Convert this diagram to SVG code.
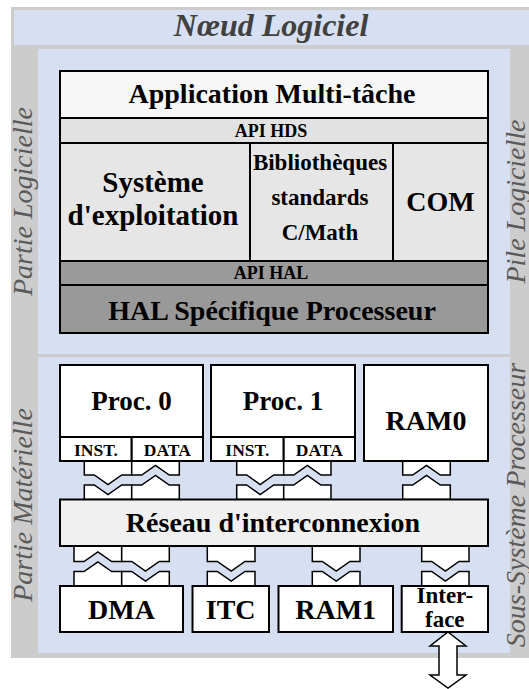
<svg xmlns="http://www.w3.org/2000/svg" width="529" height="689" viewBox="0 0 529 689">
<style>
.box{stroke:#000;stroke-width:2}
.con{fill:#fff;stroke:#000;stroke-width:1.5;stroke-linejoin:miter}
.t{font-family:"Liberation Serif","Times New Roman",serif;font-weight:bold;fill:#000;text-anchor:middle}
.side{font-family:"Liberation Serif","Times New Roman",serif;font-style:italic;font-size:28px;fill:#5a5a5a;text-anchor:middle}
</style>
<rect width="529" height="689" fill="#fff"/>
<g id="frame">
<rect x="11" y="7" width="520" height="651" fill="#cccccc"/>
<rect x="14" y="10" width="517" height="35" fill="#d6e0f2"/>
<rect x="38" y="49" width="472" height="305" fill="#d6e0f2"/>
<rect x="38" y="357" width="472" height="296" fill="#d6e0f2"/>
<text x="271" y="36" font-family="Liberation Serif,Times New Roman,serif" font-weight="bold" font-style="italic" font-size="32" fill="#404040" text-anchor="middle">Nœud Logiciel</text>
<text class="side" transform="translate(32,201.5) rotate(-90)">Partie Logicielle</text>
<text class="side" transform="translate(32,505) rotate(-90)">Partie Matérielle</text>
<text class="side" transform="translate(525,201.5) rotate(-90)">Pile Logicielle</text>
<text class="side" transform="translate(525,505) rotate(-90)">Sous-Système Processeur</text>
</g>
<g id="connectors">
<path class="con" d="M84.3,461 H131.7 V475 H121.7 L108,484.5 L94.3,475 H84.3 Z"/>
<path class="con" d="M84.3,485 H94.3 L108,494.5 L121.7,485 H131.7 V499.5 H84.3 Z"/>
<path class="con" d="M131.7,461 H179.3 V475 H169.3 L155.5,465.5 L141.7,475 H131.7 Z"/>
<path class="con" d="M131.7,485 H141.7 L155.5,475.5 L169.3,485 H179.3 V499.5 H131.7 Z"/>
<path class="con" d="M236.7,461 H283.7 V475 H273.7 L260.2,484.5 L246.7,475 H236.7 Z"/>
<path class="con" d="M236.7,485 H246.7 L260.2,494.5 L273.7,485 H283.7 V499.5 H236.7 Z"/>
<path class="con" d="M283.7,461 H331 V475 H321 L307.4,465.5 L293.7,475 H283.7 Z"/>
<path class="con" d="M283.7,485 H293.7 L307.4,475.5 L321,485 H331 V499.5 H283.7 Z"/>
<path class="con" d="M402.7,461 H450.3 V475 H440.3 L426.5,465.5 L412.7,475 H402.7 Z"/>
<path class="con" d="M402.7,485 H412.7 L426.5,475.5 L440.3,485 H450.3 V499.5 H402.7 Z"/>
<path class="con" d="M74,546 H121.7 V561.5 H111.7 L97.9,552 L84,561.5 H74 Z"/>
<path class="con" d="M74,571.5 H84 L97.9,562 L111.7,571.5 H121.7 V586 H74 Z"/>
<path class="con" d="M121.7,546 H169.3 V561.5 H159.3 L145.5,571 L131.7,561.5 H121.7 Z"/>
<path class="con" d="M121.7,571.5 H131.7 L145.5,581 L159.3,571.5 H169.3 V586 H121.7 Z"/>
<path class="con" d="M207.3,546 H255 V561.5 H245 L231.2,571 L217.3,561.5 H207.3 Z"/>
<path class="con" d="M207.3,571.5 H217.3 L231.2,581 L245,571.5 H255 V586 H207.3 Z"/>
<path class="con" d="M312.3,546 H360 V561.5 H350 L336.2,571 L322.3,561.5 H312.3 Z"/>
<path class="con" d="M312.3,571.5 H322.3 L336.2,581 L350,571.5 H360 V586 H312.3 Z"/>
<path class="con" d="M421.7,546 H469 V561.5 H459 L445.4,571 L431.7,561.5 H421.7 Z"/>
<path class="con" d="M421.7,571.5 H431.7 L445.4,581 L459,571.5 H469 V586 H421.7 Z"/>
<path class="con" d="M448,632 L466,646 H457 V675 H466 L448,688 L430,675 H439 V646 H430 Z"/>
</g>
<g id="app">
<rect class="box" x="60" y="71" width="428" height="47" fill="#f7f7f7"/>
<text class="t" x="272" y="103" font-size="28">Application Multi-tâche</text>
</g>
<g id="api-hds">
<rect class="box" x="60" y="118" width="428" height="25" fill="#e2e2e2"/>
<text class="t" x="271" y="137" font-size="18">API HDS</text>
</g>
<g id="os">
<rect class="box" x="60" y="143" width="190" height="118" fill="#e6e6e6"/>
<text class="t" x="153" y="192" font-size="29">Système</text>
<text class="t" x="153" y="225" font-size="29">d'exploitation</text>
</g>
<g id="biblio">
<rect class="box" x="250" y="143" width="143" height="118" fill="#e6e6e6"/>
<text class="t" x="320" y="170" font-size="23">Bibliothèques</text>
<text class="t" x="320" y="205" font-size="23">standards</text>
<text class="t" x="320" y="240" font-size="23">C/Math</text>
</g>
<g id="com">
<rect class="box" x="393" y="143" width="95" height="118" fill="#e6e6e6"/>
<text class="t" x="440.5" y="211" font-size="28">COM</text>
</g>
<g id="api-hal">
<rect class="box" x="60" y="261" width="428" height="24" fill="#9a9a9a"/>
<text class="t" x="271" y="279" font-size="18">API HAL</text>
</g>
<g id="hal">
<rect class="box" x="60" y="285" width="428" height="48" fill="#999999"/>
<text class="t" x="272" y="320" font-size="28">HAL Spécifique Processeur</text>
</g>
<g id="proc0">
<rect class="box" x="60" y="365" width="143" height="72" fill="#fff"/>
<rect class="box" x="60" y="437" width="71.7" height="24" fill="#fff"/>
<rect class="box" x="131.7" y="437" width="71.3" height="24" fill="#fff"/>
<text class="t" x="131.5" y="410" font-size="27">Proc. 0</text>
<text class="t" x="96" y="456" font-size="17.5">INST.</text>
<text class="t" x="167.3" y="456" font-size="17.5">DATA</text>
</g>
<g id="proc1">
<rect class="box" x="211" y="365" width="144" height="72" fill="#fff"/>
<rect class="box" x="211" y="437" width="72.7" height="24" fill="#fff"/>
<rect class="box" x="283.7" y="437" width="71.3" height="24" fill="#fff"/>
<text class="t" x="283" y="410" font-size="27">Proc. 1</text>
<text class="t" x="247.3" y="456" font-size="17.5">INST.</text>
<text class="t" x="319.3" y="456" font-size="17.5">DATA</text>
</g>
<g id="ram0">
<rect class="box" x="364" y="365" width="124" height="96" fill="#fff"/>
<text class="t" x="426" y="430" font-size="28">RAM0</text>
</g>
<g id="reseau">
<rect class="box" x="60" y="499.5" width="428" height="46.5" fill="#f0f0f0"/>
<text class="t" x="273" y="532" font-size="28">Réseau d'interconnexion</text>
</g>
<g id="dma">
<rect class="box" x="60" y="586" width="123" height="46" fill="#fff"/>
<text class="t" x="121.5" y="619" font-size="28">DMA</text>
</g>
<g id="itc">
<rect class="box" x="192.5" y="586" width="76.5" height="46" fill="#fff"/>
<text class="t" x="230.7" y="619" font-size="28">ITC</text>
</g>
<g id="ram1">
<rect class="box" x="278.5" y="586" width="114.5" height="46" fill="#fff"/>
<text class="t" x="335.7" y="619" font-size="28">RAM1</text>
</g>
<g id="interface">
<rect class="box" x="401.7" y="586" width="86.3" height="46" fill="#fff"/>
<text class="t" x="444.8" y="603" font-size="23">Inter-</text>
<text class="t" x="444.8" y="627" font-size="23">face</text>
</g>
</svg>
